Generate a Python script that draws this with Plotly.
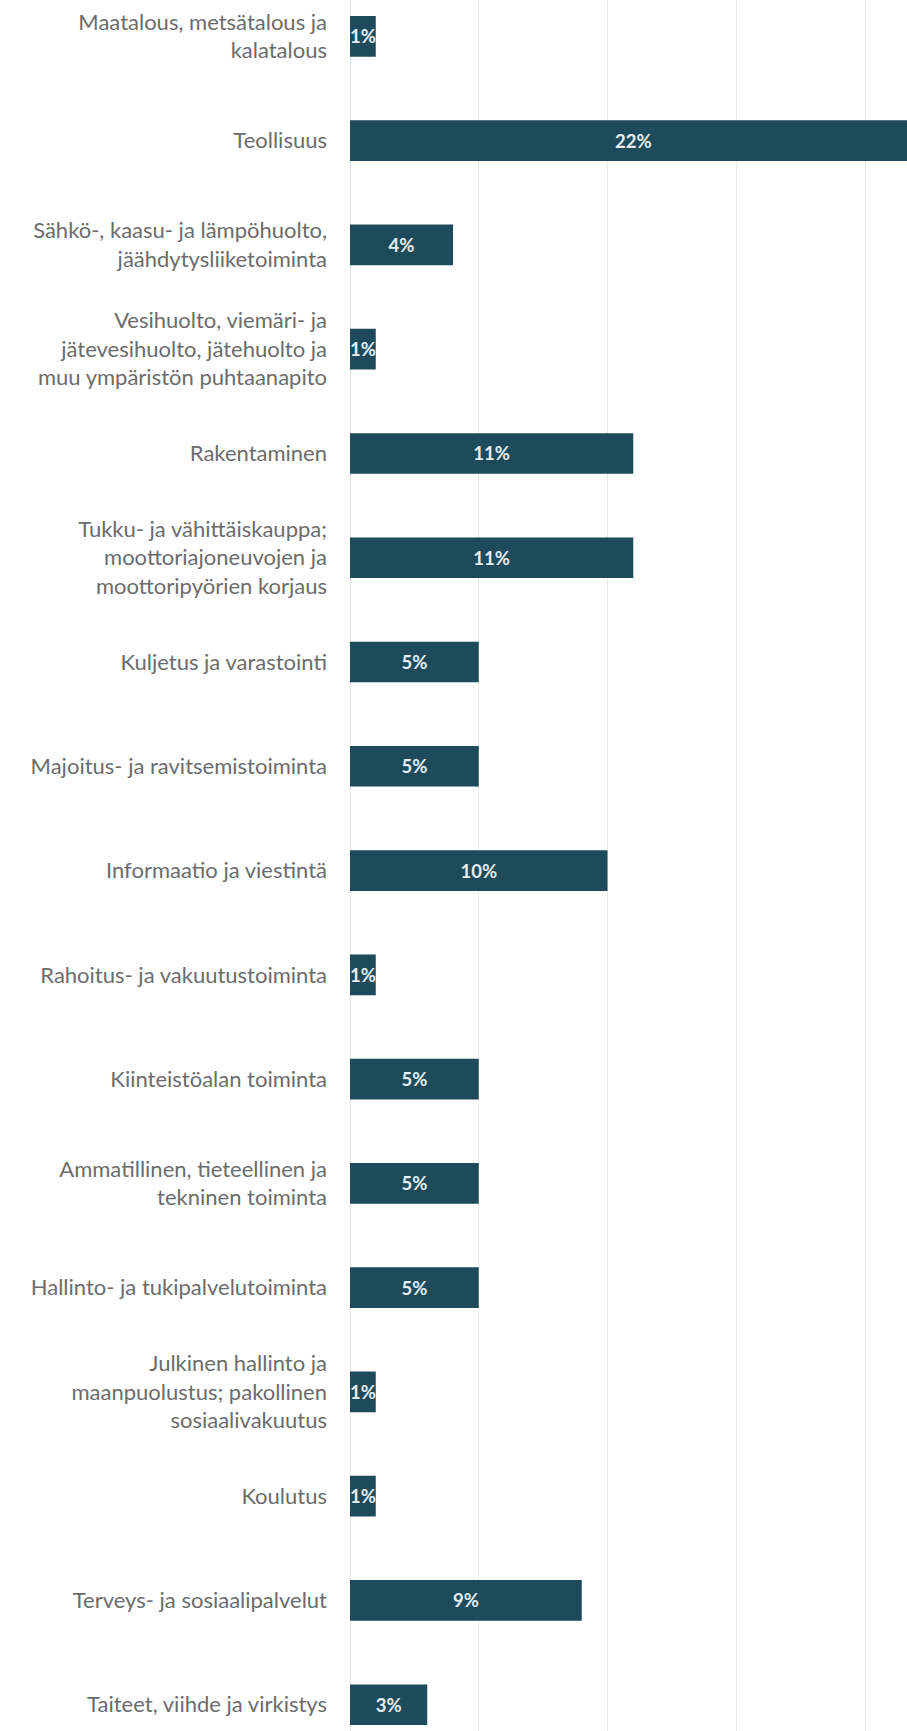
import plotly.graph_objects as go

# Toimialat ja osuudet (%)
categories = [
    "Maatalous, metsätalous ja<br>kalatalous",
    "Teollisuus",
    "Sähkö-, kaasu- ja lämpöhuolto,<br>jäähdytysliiketoiminta",
    "Vesihuolto, viemäri- ja<br>jätevesihuolto, jätehuolto ja<br>muu ympäristön puhtaanapito",
    "Rakentaminen",
    "Tukku- ja vähittäiskauppa;<br>moottoriajoneuvojen ja<br>moottoripyörien korjaus",
    "Kuljetus ja varastointi",
    "Majoitus- ja ravitsemistoiminta",
    "Informaatio ja viestintä",
    "Rahoitus- ja vakuutustoiminta",
    "Kiinteistöalan toiminta",
    "Ammatillinen, tieteellinen ja<br>tekninen toiminta",
    "Hallinto- ja tukipalvelutoiminta",
    "Julkinen hallinto ja<br>maanpuolustus; pakollinen<br>sosiaalivakuutus",
    "Koulutus",
    "Terveys- ja sosiaalipalvelut",
    "Taiteet, viihde ja virkistys",
]
shares = [1, 22, 4, 1, 11, 11, 5, 5, 10, 1, 5, 5, 5, 1, 1, 9, 3]

BAR_COLOR = "#1e4b5c"

fig = go.Figure(
    go.Bar(
        x=shares,
        y=categories,
        orientation="h",
        width=0.39,
        marker=dict(color=BAR_COLOR, line=dict(width=0)),
        text=[f"{v}%" for v in shares],
        textposition="inside",
        insidetextanchor="middle",
        textangle=0,
        constraintext="none",
        textfont=dict(family="Lato", size=18.5, weight="bold", color="#e4edf2"),
        hoverinfo="skip",
    )
)

fig.update_layout(
    width=907,
    height=1731,
    margin=dict(l=350, r=0, t=0, b=0),
    paper_bgcolor="white",
    plot_bgcolor="white",
    showlegend=False,
    xaxis=dict(
        range=[0, 21.63],
        dtick=5,
        showticklabels=False,
        showgrid=True,
        gridcolor="#ebebeb",
        gridwidth=1,
        zeroline=True,
        zerolinecolor="#dde4ee",
        zerolinewidth=1,
        fixedrange=True,
    ),
    yaxis=dict(
        type="category",
        range=[16.252, -0.349],
        showgrid=False,
        zeroline=False,
        ticks="",
        ticklabelstandoff=22,
        tickfont=dict(family="Lato", size=22, color="#6c6c6c"),
        fixedrange=True,
    ),
)

fig.write_html("out.html")
